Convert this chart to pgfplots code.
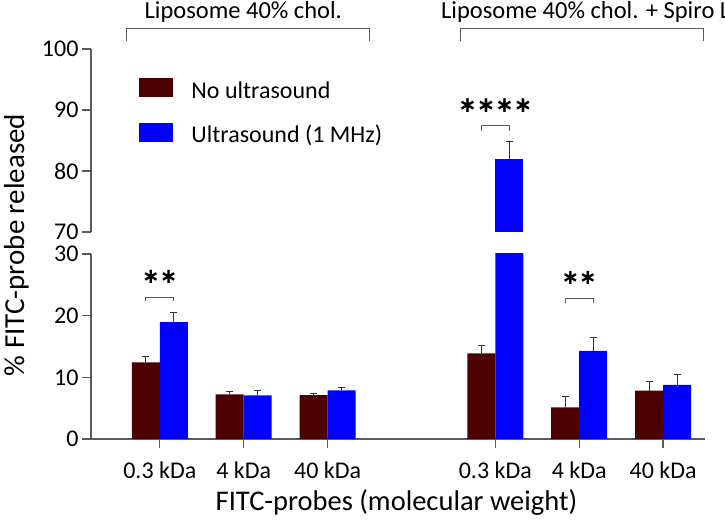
\documentclass[border=0pt]{standalone}
\usepackage{fontspec}
\setmainfont{Carlito}
\newfontfamily\starfont{DejaVu Sans}
\usepackage{pgfplots}
\pgfplotsset{compat=1.18}
\definecolor{darkred}{HTML}{4D0000}
\definecolor{ubblue}{HTML}{0000FF}
\definecolor{axgray}{HTML}{5A5A5A}
\pgfplotsset{
  base/.style={
    scale only axis, width=614bp, xmin=0.18, xmax=7.5, enlargelimits=false,
    tick align=outside, major tick length=9bp,
    axis line style={-, draw=axgray, line width=1.3pt},
    tick style={draw=axgray, line width=1.3pt},
    /pgf/number format/assume math mode=true,
    ticklabel style={font=\fontsize{24bp}{28bp}\selectfont, text=black},
  },
  bars/.style={
    ybar, bar width=28bp, bar shift=0pt, draw=none,
    error bars/y dir=plus, error bars/y explicit,
    error bars/error bar style={draw=black!80, line width=1pt, solid},
    error bars/error mark options={rotate=90, mark size=3.5bp, draw=black!80, line width=1pt},
  },
}
\begin{document}
\begin{tikzpicture}
\path[use as bounding box] (0,0) rectangle (725bp,525bp);
% ---------- lower segment 0-30 ----------
\begin{axis}[base, at={(91bp,86bp)}, anchor=south west, height=185bp,
  ymin=0, ymax=30, ytick={0,10,20,30},
  axis x line*=bottom, axis y line*=left,
  xtick={1,2,3,5,6,7},
  xticklabels={0.3 kDa,4 kDa,40 kDa,0.3 kDa,4 kDa,40 kDa},
  xticklabel style={anchor=base, yshift=-30bp},
]
% No ultrasound (bars left of each tick)
\addplot[bars, fill=darkred] coordinates {
  (0.8333,12.44) +- (0,1.0)
  (1.8333,7.25)  +- (0,0.42)
  (2.8333,7.10)  +- (0,0.30)
  (4.8333,13.9)  +- (0,1.3)
  (5.8333,5.14)  +- (0,1.7)
  (6.8333,7.84)  +- (0,1.45)
};
% Ultrasound (1 MHz) (bars right of each tick)
\addplot[bars, fill=ubblue] coordinates {
  (1.1667,18.97) +- (0,1.5)
  (2.1667,7.08)  +- (0,0.8)
  (3.1667,7.90)  +- (0,0.40)
  (5.1667,82.0)  +- (0,2.8)
  (6.1667,14.3)  +- (0,2.2)
  (7.1667,8.76)  +- (0,1.65)
};
% significance brackets
\draw[axgray, line width=1pt] (axis cs:0.8333,22.3) -- (axis cs:0.8333,23) -- (axis cs:1.1667,23) -- (axis cs:1.1667,22.3);
\node[font=\starfont\bfseries\fontsize{21bp}{21bp}\selectfont] at (axis cs:1,26.3) {∗∗};
\draw[axgray, line width=1pt] (axis cs:5.8333,22.1) -- (axis cs:5.8333,22.8) -- (axis cs:6.1667,22.8) -- (axis cs:6.1667,22.1);
\node[font=\starfont\bfseries\fontsize{21bp}{21bp}\selectfont] at (axis cs:6,26.1) {∗∗};
\end{axis}
% ---------- upper segment 70-100 ----------
\begin{axis}[base, at={(91bp,293bp)}, anchor=south west, height=183bp,
  ymin=70, ymax=100, ytick={70,80,90,100},
  axis y line*=left, axis x line=none,
  legend style={draw=none, fill=none, inner sep=0pt, at={(0.078,0.84)}, anchor=north west,
    font=\fontsize{24bp}{28bp}\selectfont, row sep=20bp, column sep=19bp,
    nodes={inner sep=0pt, text height=16bp, text depth=5bp}},
  legend cell align=left,
]
\addlegendimage{legend image code/.code={\fill[darkred] (0bp,-4bp) rectangle (33bp,14bp);}}
\addlegendimage{legend image code/.code={\fill[ubblue] (0bp,-4bp) rectangle (33bp,14bp);}}
\addplot[bars, fill=ubblue, forget plot] coordinates {
  (5.1667,82.0) +- (0,2.8)
};
\draw[axgray, line width=1pt] (axis cs:4.8333,86.6) -- (axis cs:4.8333,87.4) -- (axis cs:5.1667,87.4) -- (axis cs:5.1667,86.6);
\node[font=\starfont\bfseries\fontsize{22bp}{22bp}\selectfont] at (axis cs:5,90.8) {∗∗∗∗};
\legend{No ultrasound, Ultrasound (1 MHz)}
\end{axis}
% ---------- axis titles and group labels ----------
\node[rotate=90, font=\fontsize{29bp}{33bp}\selectfont] at (16.5bp,280bp) {\% FITC-probe released};
\node[anchor=base, font=\fontsize{28.5bp}{32bp}\selectfont] at (396.5bp,14.3bp) {FITC-probes (molecular weight)};
\draw[axgray, line width=1pt] (126.7bp,484.3bp) -- (126.7bp,496.7bp) -- (369.3bp,496.7bp) -- (369.3bp,484.3bp);
\draw[axgray, line width=1pt] (460.7bp,484.3bp) -- (460.7bp,496.7bp) -- (703.3bp,496.7bp) -- (703.3bp,484.3bp);
\node[anchor=base, font=\fontsize{24.5bp}{28bp}\selectfont] at (243.3bp,506bp) {Liposome 40\% chol.};
\node[anchor=base west, inner sep=0pt, font=\fontsize{24.5bp}{28bp}\selectfont] at (441bp,506bp) {Liposome 40\% chol. + Spiro Lipid};
\end{tikzpicture}
\end{document}
